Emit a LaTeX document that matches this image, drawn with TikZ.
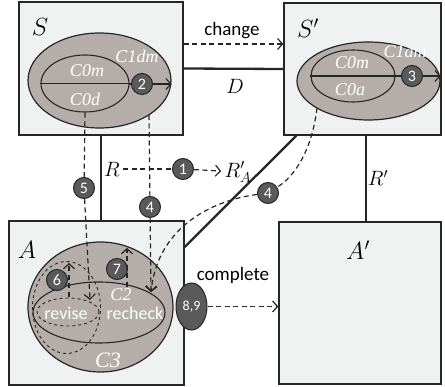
\documentclass[tikz,border=0pt]{standalone}
\usepackage{fontspec}
\setsansfont{Carlito}
\newfontfamily\setfont{Liberation Serif}
\usetikzlibrary{shapes.geometric,arrows.meta}
\definecolor{boxgray}{HTML}{F0F1F1}
\definecolor{setgray}{HTML}{B5ADAA}
\definecolor{stepgray}{HTML}{5A5A5A}
\tikzset{
  box/.style={draw=black!85, line width=1.3pt, fill=boxgray, inner sep=0pt},
  set/.style={ellipse, draw=black!85, line width=1.2pt, fill=setgray, inner sep=0pt},
  sub/.style={ellipse, draw=black!85, line width=1.1pt, inner sep=0pt},
  num/.style={circle, draw=black!85, line width=1pt, fill=stepgray, text=white,
              font=\sffamily\fontsize{16}{16}\selectfont, inner sep=0pt, minimum size=21pt},
  big/.style={font=\fontsize{26}{26}\selectfont},
  lbl/.style={font=\fontsize{21}{21}\selectfont},
  cname/.style={text=white, font=\setfont\itshape\fontsize{18}{18}\selectfont},
  word/.style={font=\sffamily\fontsize{19}{19}\selectfont},
  link/.style={draw=black!85, line width=2.3pt},
  flow/.style={draw=black!85, dash pattern=on 5pt off 3.5pt, line width=1.2pt},
  tip/.style={-{Straight Barb[length=5pt,width=11pt]}},
}

\begin{document}
\begin{tikzpicture}[x=1pt, y=-1pt]
  \useasboundingbox (0,0) rectangle (445,387);

  % the four states
  \node[box, minimum width=164pt, minimum height=133pt] (S)  at (101,68.5)   {};
  \node[box, minimum width=157pt, minimum height=132pt] (Sp) at (362.5,69)   {};
  \node[box, minimum width=175pt, minimum height=164pt] (A)  at (96.5,303)   {};
  \node[box, minimum width=162pt, minimum height=162pt] (Ap) at (360,303)    {};

  \node[big] (Slbl)  at (40,27)  {$S$};
  \node[big] (Splbl) at (308,28) {$S'$};
  \node[big] (Albl)  at (27,250) {$A$};
  \node[big] (Aplbl) at (358,250) {$A'$};

  % constraint sets in S
  \node[set, minimum width=143pt, minimum height=95pt] (Sout) at (99.5,80.5) {};
  \node[sub, minimum width=88pt, minimum height=57pt]  (Sin)  at (85,83.5)   {};
  \draw[black!85, line width=1.1pt] (Sin.west) -- (Sin.east);
  \node[cname] (c1dm) at (137,56) {C1dm};
  \node[cname] (c0m)  at (87,71)  {C0m};
  \node[cname] (c0d)  at (85,99)  {C0d};

  % constraint sets in S'
  \node[set, minimum width=143pt, minimum height=78pt] (Spout) at (368.5,81) {};
  \node[sub, minimum width=84pt, minimum height=52pt]  (Spin)  at (353,76)   {};
  \draw[black!85, line width=1.1pt] (Spin.west) -- (Spin.east);
  \node[cname] (c1am) at (405,52) {C1am};
  \node[cname] (c0mp) at (352,63) {C0m};
  \node[cname] (c0a)  at (350,90) {C0a};

  % constraint sets in A
  \node[set, minimum width=145pt, minimum height=130pt] (C3) at (100.5,307) {};
  \node[sub, minimum width=132pt, minimum height=61pt]  (C2) at (99,312.5)  {};
  \node[sub, dashed, line width=0.9pt, minimum width=68pt, minimum height=92pt] (rvout) at (66.5,307.5) {};
  \node[sub, dashed, line width=0.9pt, minimum width=62pt, minimum height=28pt] (rvin)  at (68,312)     {};
  \node[cname, font=\sffamily\fontsize{18}{18}\selectfont] (rv)  at (66,313)  {revise};
  \node[cname, font=\sffamily\fontsize{18}{18}\selectfont] (rc)  at (135,313) {recheck};
  \node[cname] (c2) at (121,295) {C2};
  \node[cname, font=\setfont\itshape\fontsize{22}{22}\selectfont] (c3) at (108,360) {C3};

  % relations between the states
  \coordinate (chg) at (0,44);
  \draw[flow, tip] (S.east |- chg) -- (Sp.west |- chg);
  \node[word] (change) at (232,31) {change};
  \draw[link] (S.east) -- (Sp.west);
  \node[lbl] (D) at (235,86) {$D$};
  \draw[link] (S.south) -- (S.south |- A.north);
  \draw[link] ([xshift=3.5pt]Sp.south) -- ([xshift=3.5pt]Sp.south |- Ap.north);
  \draw[link] ([xshift=13pt]Sp.south west) -- ([yshift=56pt]A.east);
  \node[lbl] (R)  at (112,169) {$R$};
  \node[lbl] (RA) at (238,172) {$R'_A$};
  \node[lbl] (Rp) at (378,178) {$R'$};

  % numbered steps
  \node[num] (n1) at (183,169) {1};
  \node[num] (n2) at (142,84)  {2};
  \node[num] (n3) at (412,76)  {3};
  \node[num] (n4) at (150,207) {4};
  \node[num] (n4p) at (268,193) {4};
  \node[num] (n5) at (84,188)  {5};
  \node[num] (n6) at (57,280)  {6};
  \node[num] (n7) at (117,269) {7};
  \node[ellipse, draw=black!85, line width=1pt, fill=stepgray, text=white, inner sep=0pt,
        minimum width=31pt, minimum height=47pt, font=\sffamily\fontsize{14}{14}\selectfont]
        (n89) at (191.5,306.5) {8,9};

  \coordinate (in2)  at (129,84);
  \coordinate (in3)  at (395,76);
  \coordinate (top4) at (149,115);
  \coordinate (end4) at (151,292);
  \coordinate (end5) at (90,300);
  \coordinate (bot4) at (317,108);

  \draw[flow] (R) -- (n1);
  \draw[flow, tip] (n1) -- (RA);
  \draw[black!85, line width=1.1pt] (in2) -- (n2);
  \draw[black!85, line width=1.1pt, tip] (n2) -- (Sout.east |- n2);
  \draw[black!85, line width=1.1pt] (in3) -- (n3);
  \draw[black!85, line width=1.1pt, tip] (n3) -- (Spout.east |- n3);
  \draw[flow] (Sin.south) -- (n5);
  \draw[flow, tip] (n5) -- (end5);
  \draw[flow] (top4) -- (n4);
  \draw[flow, tip] (n4) -- (end4);
  \draw[flow] (bot4) .. controls (312,150) and (295,176) .. (n4p);
  \draw[flow, tip] (n4p) .. controls (215,200) and (158,225) .. (end4);
  \draw[flow, tip] ([xshift=12pt,yshift=-17pt]n6.center) -- ([xshift=12pt,yshift=17pt]n6.center);
  \draw[flow, tip] ([xshift=10pt,yshift=-18pt]n7.center) -- ([xshift=10pt,yshift=21pt]n7.center);
  \draw[flow, tip] (n89) -- (Ap.west |- n89);
  \node[word] (complete) at (233,275) {complete};
\end{tikzpicture}
\end{document}
